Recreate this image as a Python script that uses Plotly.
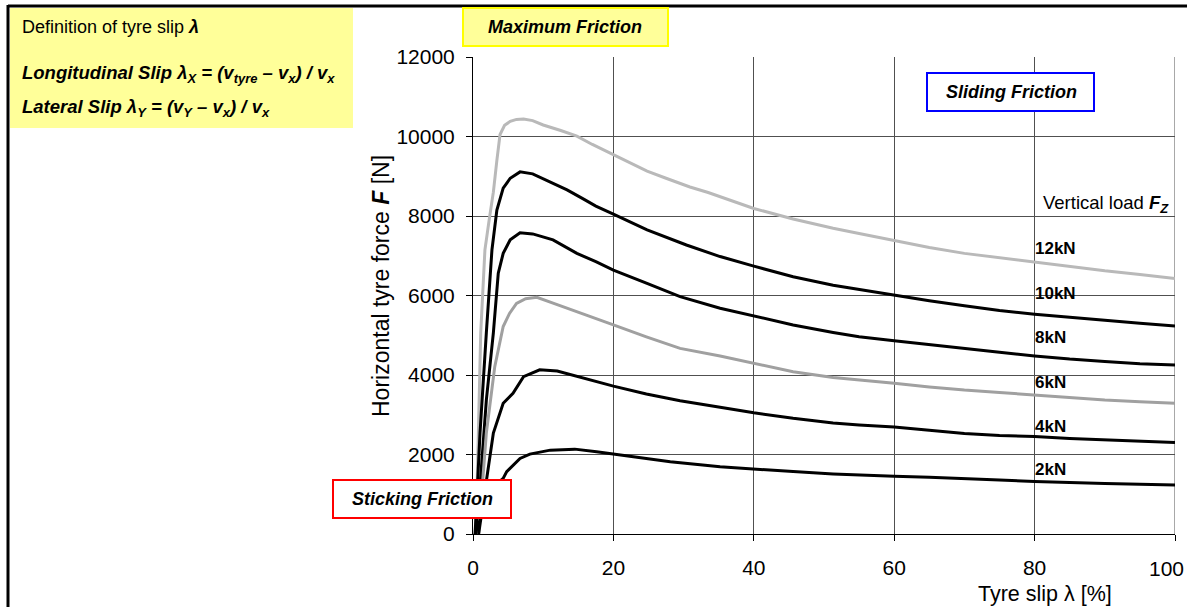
import plotly.graph_objects as go

# ---------------- data ----------------
slip_12kN = [0.3, 0.6, 1.1, 1.7, 2.3, 2.9, 3.4, 3.85, 4.5, 5.3, 6.2, 7.2, 8.5, 10.0, 12.5, 14.8,
             17.0, 20.0, 22.0, 24.8, 27.5, 30.9, 33.5, 36.2, 40.0, 45.6, 51.3, 55.0, 60.0, 65.0,
             70.0, 75.0, 80.0, 85.0, 90.0, 95.0, 100.0]
force_12kN = [0, 1280, 5060, 7150, 7900, 8600, 9400, 10050, 10280, 10380, 10430, 10440, 10400,
              10290, 10150, 10010, 9800, 9535, 9360, 9130, 8950, 8730, 8590, 8430, 8190, 7925,
              7690, 7560, 7380, 7210, 7060, 6950, 6850, 6740, 6620, 6530, 6430]

slip_10kN = [0.3, 1.0, 1.9, 2.7, 3.4, 4.3, 5.3, 6.7, 8.5, 11.0, 13.4, 15.7, 17.5, 20.0, 24.8,
             30.4, 35.2, 40.0, 45.6, 51.3, 55.0, 60.0, 65.0, 70.0, 75.0, 80.0, 85.0, 90.0, 95.0, 100.0]
force_10kN = [0, 2540, 5060, 7150, 8150, 8700, 8950, 9110, 9060, 8860, 8655, 8430, 8250, 8050,
              7650, 7270, 6980, 6740, 6470, 6260, 6150, 6000, 5870, 5740, 5620, 5530, 5450,
              5380, 5300, 5230]

slip_8kN = [0.5, 1.9, 2.9, 3.6, 4.3, 5.3, 6.7, 8.5, 11.4, 14.8, 17.5, 20.0, 24.7, 29.5, 35.2,
            40.0, 45.6, 51.3, 55.0, 60.0, 65.0, 70.0, 75.0, 80.0, 85.0, 90.0, 95.0, 100.0]
force_8kN = [0, 3370, 5060, 6560, 7060, 7400, 7580, 7550, 7400, 7060, 6850, 6640, 6310, 5970,
             5680, 5480, 5260, 5070, 4960, 4860, 4760, 4670, 4570, 4480, 4400, 4340, 4280, 4250]

slip_6kN = [0.8, 1.9, 3.1, 4.3, 5.2, 6.2, 7.5, 9.1, 11.5, 15.0, 17.5, 20.0, 24.7, 29.5, 35.2,
            40.0, 45.6, 51.3, 55.0, 60.0, 65.0, 70.0, 75.0, 80.0, 85.0, 90.0, 95.0, 100.0]
force_6kN = [0, 2540, 4210, 5220, 5550, 5800, 5920, 5955, 5800, 5570, 5420, 5260, 4960, 4670,
             4480, 4290, 4080, 3940, 3870, 3790, 3700, 3620, 3560, 3500, 3430, 3370, 3330, 3290]

slip_4kN = [0.8, 1.5, 2.2, 2.9, 4.3, 5.7, 7.2, 9.5, 12.0, 15.0, 17.5, 20.0, 24.7, 29.5, 35.2,
            40.0, 45.6, 51.3, 55.0, 60.0, 65.0, 70.0, 75.0, 80.0, 85.0, 90.0, 95.0, 100.0]
force_4kN = [0, 860, 1690, 2540, 3290, 3540, 3960, 4130, 4100, 3960, 3830, 3720, 3520, 3350,
             3190, 3050, 2910, 2790, 2740, 2690, 2610, 2530, 2480, 2450, 2400, 2365, 2330, 2300]

slip_2kN = [0.3, 1.0, 1.9, 2.9, 4.3, 4.8, 6.7, 8.1, 11.0, 14.5, 17.6, 20.0, 24.3, 28.1, 35.2,
            40.0, 45.6, 51.3, 55.0, 60.0, 65.0, 70.0, 75.0, 80.0, 85.0, 90.0, 95.0, 100.0]
force_2kN = [0, 350, 860, 1190, 1400, 1570, 1900, 2010, 2110, 2135, 2070, 2010, 1900, 1820,
             1690, 1630, 1570, 1510, 1480, 1450, 1430, 1400, 1360, 1320, 1290, 1270, 1250, 1230]

load_labels = ["12kN", "10kN", "8kN", "6kN", "4kN", "2kN"]
x_ticks = [0, 20, 40, 60, 80, 100]
y_ticks = [0, 2000, 4000, 6000, 8000, 10000, 12000]

# ---------------- figure ----------------
# the visible area is ~1187 px wide; keep everything inside it
W, H = 1187, 607
L, R, T, B = 473, 1175, 57, 534   # plot area in pixels

def px(x):
    return (x - L) / (R - L)

def py(y):
    return (B - y) / (B - T)

FONT = "Arial, Liberation Sans, sans-serif"

series = [
    (slip_12kN, force_12kN, "#b9b9b9", "12kN"),
    (slip_10kN, force_10kN, "#000000", "10kN"),
    (slip_8kN, force_8kN, "#000000", "8kN"),
    (slip_6kN, force_6kN, "#a0a0a0", "6kN"),
    (slip_4kN, force_4kN, "#000000", "4kN"),
    (slip_2kN, force_2kN, "#000000", "2kN"),
]

fig = go.Figure()
for xs, ys, col, name in series:
    fig.add_trace(go.Scatter(x=xs, y=ys, mode="lines", name=name,
                             line=dict(color=col, width=3), showlegend=False))

fig.update_layout(
    width=W, height=H, autosize=False,
    margin=dict(l=L, r=W - R, t=T, b=H - B),
    paper_bgcolor="white", plot_bgcolor="white",
    font=dict(family=FONT, color="black", size=18),
    showlegend=False,
)
# last x tick label is placed separately so it stays inside the visible area
x_ticktext = [str(v) for v in x_ticks[:-1]] + [""]
fig.update_xaxes(range=[0, 100], tickvals=x_ticks, ticktext=x_ticktext,
                 showgrid=True, gridcolor="#505050", gridwidth=1,
                 showline=True, linecolor="black", linewidth=1,
                 ticks="outside", ticklen=6, tickcolor="black",
                 tickfont=dict(size=21, family=FONT), ticklabelstandoff=9,
                 zeroline=False)
fig.update_yaxes(range=[0, 12000], tickvals=y_ticks, ticktext=[str(v) for v in y_ticks],
                 showgrid=True, gridcolor="#505050", gridwidth=1,
                 showline=True, linecolor="black", linewidth=1,
                 ticks="outside", ticklen=6, tickcolor="black",
                 tickfont=dict(size=21, family=FONT), ticklabelstandoff=7,
                 zeroline=False)

shapes = []
# right edge of the plot area (grid line at 100 %)
shapes.append(dict(type="line", xref="x", yref="y", x0=x_ticks[-1], x1=x_ticks[-1],
                   y0=y_ticks[0], y1=y_ticks[-1], line=dict(color="#505050", width=1),
                   layer="below"))
# outer frame (top and left edges)
shapes.append(dict(type="line", xref="paper", yref="paper", x0=px(8), x1=px(W),
                   y0=py(6), y1=py(6), line=dict(color="black", width=3), layer="above"))
shapes.append(dict(type="line", xref="paper", yref="paper", x0=px(8), x1=px(8),
                   y0=py(5), y1=py(H), line=dict(color="black", width=3), layer="above"))
# definition box
shapes.append(dict(type="rect", xref="paper", yref="paper", x0=px(10), x1=px(353),
                   y0=py(128), y1=py(8), fillcolor="#ffff99", line=dict(width=0), layer="above"))
# maximum friction box
shapes.append(dict(type="rect", xref="paper", yref="paper", x0=px(463), x1=px(668),
                   y0=py(46), y1=py(8), fillcolor="#ffff99",
                   line=dict(color="#ffff00", width=2), layer="above"))
# sliding friction box
shapes.append(dict(type="rect", xref="paper", yref="paper", x0=px(927), x1=px(1094),
                   y0=py(111), y1=py(73), fillcolor="white",
                   line=dict(color="#0000ff", width=2), layer="above"))
# sticking friction box
shapes.append(dict(type="rect", xref="paper", yref="paper", x0=px(333), x1=px(511),
                   y0=py(518), y1=py(480), fillcolor="white",
                   line=dict(color="#ff0000", width=2), layer="above"))
fig.update_layout(shapes=shapes)

def ann(text, x, y, xanchor="left", size=18, **kw):
    fig.add_annotation(text=text, xref="paper", yref="paper", x=px(x), y=py(y),
                       xanchor=xanchor, yanchor="middle", showarrow=False,
                       font=dict(size=size, family=FONT, color="black"), **kw)

ann("Definition of tyre slip <b><i>λ</i></b>", 20, 27, size=18)
ann("<b><i>Longitudinal Slip λ<sub>X</sub> = (v<sub>tyre</sub> – v<sub>x</sub>) / v<sub>x</sub></i></b>",
    20, 74, size=18.5)
ann("<b><i>Lateral Slip λ<sub>Y</sub> = (v<sub>Y</sub> – v<sub>x</sub>) / v<sub>x</sub></i></b>",
    20, 108, size=18.5)
ann("<b><i>Maximum Friction</i></b>", 565, 27, xanchor="center", size=18)
ann("<b><i>Sliding Friction</i></b>", 1011, 92, xanchor="center", size=18)
ann("<b><i>Sticking Friction</i></b>", 422, 499, xanchor="center", size=18)
ann("Vertical load <b><i>F<sub>Z</sub></i></b>", 1171, 204, xanchor="right", size=18.5)

label_y = [248, 293, 337, 382, 426, 469]
for lab, yy in zip(load_labels, label_y):
    ann("<b>" + lab + "</b>", 1033, yy, size=17)

# last x tick label, kept inside the visible width
ann(str(x_ticks[-1]), W - 1, 568, xanchor="right", size=21)

# axis titles
ann("Horizontal tyre force <b><i>F</i></b> [N]", 381, 286, xanchor="center", size=23, textangle=-90)
ann("Tyre slip λ [%]", 1045, 594, xanchor="center", size=21.5)

fig.write_html(
    "out.html",
    config={"responsive": False, "displayModeBar": False},
    post_script=("document.documentElement.style.overflow='hidden';"
                 "document.body.style.overflow='hidden';"
                 "document.body.style.margin='0';"),
)
